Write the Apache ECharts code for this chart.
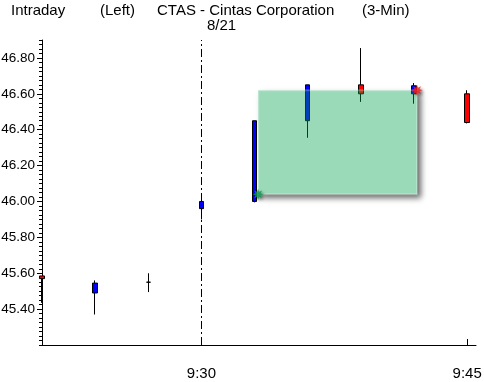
<!DOCTYPE html>
<html><head><meta charset="utf-8">
<script src="https://cdn.jsdelivr.net/npm/echarts@6/dist/echarts.min.js"></script>
<style>html,body{margin:0;padding:0;background:#fff}#c{width:484px;height:382px}</style>
</head><body><div id="c"></div>
<script>
// minutes after 9:00 (3-minute bars)
const times  = [21, 24, 27, 30, 33, 36, 39, 42, 45];
const opens  = [45.585, 45.49, 45.55, 45.96, 46.00, 46.45, 46.65, 46.60, 46.60];
const closes = [45.57, 45.545, 45.55, 46.00, 46.45, 46.65, 46.60, 46.645, 46.44];
const lows   = [45.435, 45.37, 45.495, 45.90, 45.995, 46.355, 46.555, 46.545, 46.435];
const highs  = [45.585, 45.56, 45.60, 46.00, 46.45, 46.65, 46.855, 46.66, 46.62];
const yTickLabels = [45.4, 45.6, 45.8, 46.0, 46.2, 46.4, 46.6, 46.8];
const xTickLabels = [30, 45];
const dayBreak = 30;
const dayLabel = '8/21';
const annotStart = [33.2, 46.04];
const annotEnd = [42.17, 46.62];
const titleParts = ['Intraday', '(Left)', 'CTAS - Cintas Corporation', '(3-Min)'];

const FONT = '"Liberation Sans", Arial, sans-serif';
const Y_MIN = 45.2, Y_MAX = 46.9;

const minorTicks = [];
for (let k = 0; ; k++) {
  const v = Math.round((Y_MIN + k * 0.025) * 1000) / 1000;
  if (v > Y_MAX + 1e-9) break;
  minorTicks.push(v);
}
// 8-point burst symbol
let sp = '';
for (let i = 0; i < 16; i++) {
  const a = Math.PI * i / 8, r = i % 2 ? 5 : 10;
  sp += (i ? 'L' : 'M') + (r * Math.cos(a)).toFixed(2) + ',' + (r * Math.sin(a)).toFixed(2);
}
const starPath = 'path://' + sp + 'Z';

const chart = echarts.init(document.getElementById('c'), null, {renderer: 'canvas'});
const titleX = [11, 100, 157, 362];
chart.setOption({
  animation: false,
  backgroundColor: '#fff',
  grid: {left: 42, right: 8, top: 40, bottom: 37, outerBoundsMode: 'none', containLabel: false},
  xAxis: {
    type: 'value', min: 21, max: 45.5,
    axisLine: {show: true, lineStyle: {color: '#000', width: 1}},
    axisTick: {show: true, inside: true, length: 6, customValues: xTickLabels, lineStyle: {color: '#000'}},
    axisLabel: {customValues: xTickLabels, formatter: v => '9:' + v, color: '#000', fontFamily: FONT, fontSize: 15, margin: 21},
    splitLine: {show: false}
  },
  yAxis: [{
    type: 'value', min: Y_MIN, max: Y_MAX, position: 'left',
    axisLine: {show: true, lineStyle: {color: '#000', width: 1}},
    axisTick: {show: true, length: 3, customValues: minorTicks, lineStyle: {color: '#000'}},
    axisLabel: {show: false},
    splitLine: {show: false}
  }, {
    type: 'value', min: Y_MIN, max: Y_MAX, position: 'left', offset: 0,
    axisLine: {show: false},
    axisTick: {show: true, length: 5, customValues: yTickLabels, lineStyle: {color: '#000'}},
    axisLabel: {customValues: yTickLabels, formatter: v => v.toFixed(2), color: '#000', fontFamily: FONT, fontSize: 13.5, margin: 7},
    splitLine: {show: false}
  }],
  graphic: titleParts.map((t, i) => ({
    type: 'text', left: titleX[i], top: 3,
    style: {text: t, fill: '#000', font: '15px ' + FONT}
  })).concat([{
    type: 'text', left: 207, top: 18,
    style: {text: dayLabel, fill: '#000', font: '15px ' + FONT}
  }]),
  series: [{
    type: 'candlestick', xAxisIndex: 0, yAxisIndex: 0, z: 2,
    data: times.map((t, i) => [t, opens[i], closes[i], lows[i], highs[i]]),
    encode: {x: 0, y: [1, 2, 3, 4]},
    barWidth: 5,
    clip: true,
    emphasis: {disabled: true},
    itemStyle: {color: '#0000ff', color0: '#ff0000', borderColor: '#000', borderColor0: '#000', borderColorDoji: '#000', borderWidth: 1},
    markArea: {
      silent: true, z: 1, label: {show: false},
      itemStyle: {color: '#fff', shadowBlur: 6, shadowOffsetX: 4, shadowOffsetY: 4, shadowColor: 'rgba(0,0,0,0.6)'},
      data: [[{coord: annotStart}, {coord: annotEnd}]]
    },
    markLine: {
      silent: true, symbol: 'none', label: {show: false},
      lineStyle: {color: '#000', width: 1, type: [8, 3, 2, 3]},
      emphasis: {disabled: true},
      data: [{xAxis: dayBreak}]
    }
  }, {
    type: 'scatter', xAxisIndex: 0, yAxisIndex: 0, z: 5, silent: true,
    symbol: starPath, symbolSize: 11,
    data: [
      {value: annotStart, itemStyle: {color: '#109a50'}},
      {value: annotEnd, itemStyle: {color: '#ff1a1a'}}
    ],
    itemStyle: {shadowBlur: 3, shadowOffsetX: 2, shadowOffsetY: 2, shadowColor: 'rgba(0,0,0,0.55)'},
    markArea: {
      silent: true, z: 3, label: {show: false},
      itemStyle: {color: 'rgba(5,162,80,0.4)', borderColor: 'rgba(255,255,255,0.25)', borderWidth: 2},
      data: [[{coord: annotStart}, {coord: annotEnd}]]
    }
  }]
});
</script>
</body></html>
